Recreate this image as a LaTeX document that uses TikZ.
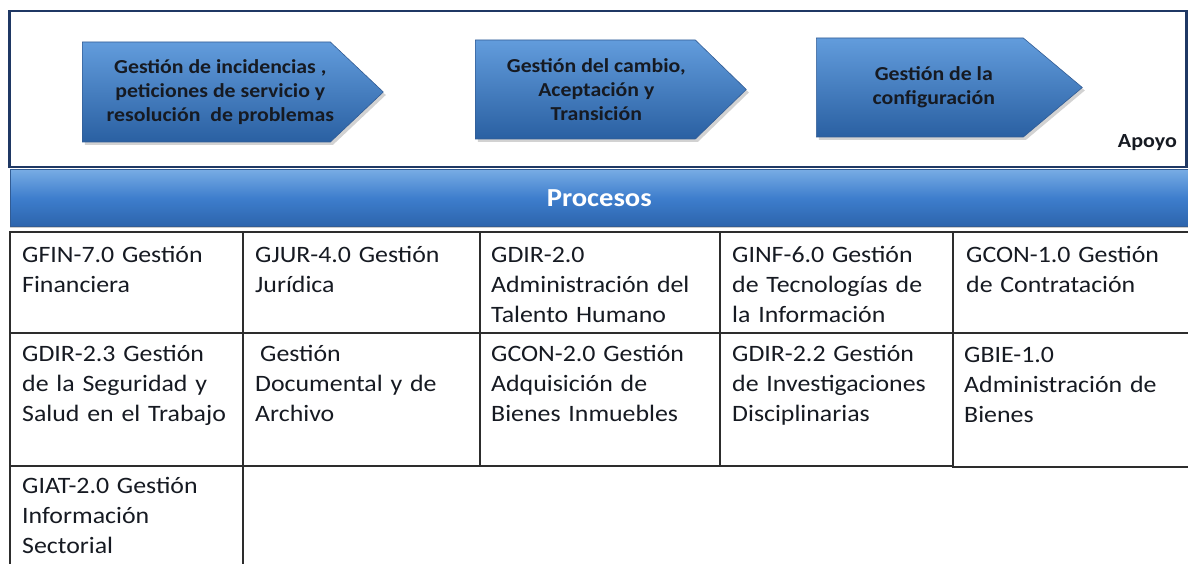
\documentclass[tikz,border=0pt]{standalone}
\usepackage{fontspec}
\setmainfont{Carlito}[FakeStretch=1.1]
\usepackage{xcolor}
\usepackage{tikz}
\usetikzlibrary{shapes.symbols, positioning, shadows}
\definecolor{cNavy}{RGB}{31,56,100}
\definecolor{cArrTop}{RGB}{98,156,220}
\definecolor{cArrBot}{RGB}{42,96,162}
\definecolor{cArrEdge}{RGB}{50,92,148}
\definecolor{cBarTop}{RGB}{120,172,228}
\definecolor{cBarMid}{RGB}{62,126,205}
\definecolor{cBarBot}{RGB}{44,100,172}
\definecolor{cGrid}{RGB}{45,45,45}
\definecolor{cInk}{RGB}{22,26,34}
\tikzset{
	stage/.style   ={signal, signal to=east, minimum height=100pt, inner sep=0pt, top color=cArrTop, bottom color=cArrBot, draw=cArrEdge, line width=0.6pt, drop shadow={shadow xshift=2.5pt, shadow yshift=-3pt, opacity=0.35}},
	stagetxt/.style={align=center, text=cInk, font=\fontsize{19.8}{24}\selectfont\bfseries},
	apoyobox/.style={rectangle, draw=cNavy, line width=2.5pt, fill=white, minimum width=1177pt, minimum height=156pt, anchor=north west, inner sep=0pt},
	procbar/.style ={rectangle, draw=cArrEdge, line width=0.6pt, top color=cBarTop, bottom color=cBarBot, middle color=cBarMid, minimum width=1178pt, minimum height=57pt, anchor=north west, text=white, font=\fontsize{26}{30}\selectfont\bfseries, drop shadow={shadow xshift=0pt, shadow yshift=-2pt, opacity=0.4}},
	cell/.style    ={rectangle, draw=cGrid, line width=1.5pt, inner sep=0pt, outer sep=0pt},
	celltxt/.style ={anchor=base west, align=left, text width=260pt, inner sep=0pt, text=cInk, font=\fontsize{23.5}{30}\selectfont},
}
\begin{document}
\begin{tikzpicture}[x=1pt, y=-1pt, node distance=0pt]
	\useasboundingbox (0,0) rectangle (1188,564);
	\clip (0,0) rectangle (1188,564);
	\node[apoyobox] (apoyo) at (8,10) {};
	\node[stage, signal pointer angle=86.7, minimum width=301pt, anchor=west] (sInc) at (82,92) {};
	\node[stagetxt] (sIncTxt) at ([xshift=14pt]sInc.center) {Gestión de incidencias ,\\peticiones de servicio y\\resolución~ de problemas};
	\node[stage, signal pointer angle=88.3, minimum width=271pt, minimum height=99pt, anchor=west] (sCam) at (475,89.5) {};
	\node[stagetxt] (sCamTxt) at ([xshift=11pt]sCam.center) {Gestión del cambio,\\Aceptación y\\Transición};
	\node[stage, signal pointer angle=80, minimum width=266pt, minimum height=99pt, anchor=west] (sConf) at (816,87.5) {};
	\node[stagetxt] (sConfTxt) at ([xshift=14pt]sConf.center) {Gestión de la\\configuración};
	\node[anchor=base east, inner sep=0pt, text=cInk, font=\fontsize{20}{22}\selectfont\bfseries] (apoyoTxt) at (1177,148) {Apoyo};
	\node[procbar] (proc) at (10,169) {Procesos};
	\node[cell, anchor=north west, minimum width=233pt, minimum height=101pt] (c11) at (10,232) {};
	\node[cell, right=of c11, minimum width=237pt, minimum height=101pt] (c12) {};
	\node[cell, right=of c12, minimum width=240pt, minimum height=101pt] (c13) {};
	\node[cell, right=of c13, minimum width=233pt, minimum height=101pt] (c14) {};
	\node[cell, right=of c14, minimum width=260pt, minimum height=101pt] (c15) {};
	\node[cell, below=of c11, minimum width=233pt, minimum height=133pt] (c21) {};
	\node[cell, below=of c12, minimum width=237pt, minimum height=133pt] (c22) {};
	\node[cell, below=of c13, minimum width=240pt, minimum height=133pt] (c23) {};
	\node[cell, below=of c14, minimum width=233pt, minimum height=133pt] (c24) {};
	\node[cell, below=of c15, minimum width=260pt, minimum height=134pt] (c25) {};
	\node[cell, below=of c21, minimum width=233pt, minimum height=120pt] (c31) {};
	\node[celltxt] (t11) at ([shift={(12,30)}]c11.north west) {GFIN-7.0 Gestión\\Financiera};
	\node[celltxt] (t12) at ([shift={(12,30)}]c12.north west) {GJUR-4.0 Gestión\\Jurídica};
	\node[celltxt] (t13) at ([shift={(11,30)}]c13.north west) {GDIR-2.0\\Administración del\\Talento Humano};
	\node[celltxt] (t14) at ([shift={(12,30)}]c14.north west) {GINF-6.0 Gestión\\de Tecnologías de\\la Información};
	\node[celltxt] (t15) at ([shift={(13,30)}]c15.north west) {GCON-1.0 Gestión\\de Contratación};
	\node[celltxt] (t21) at ([shift={(12,28)}]c21.north west) {GDIR-2.3 Gestión\\de la Seguridad y\\Salud en el Trabajo};
	\node[celltxt] (t22) at ([shift={(12,28)}]c22.north west) {\hspace*{5pt}Gestión\\Documental y de\\Archivo};
	\node[celltxt] (t23) at ([shift={(11,28)}]c23.north west) {GCON-2.0 Gestión\\Adquisición de\\Bienes Inmuebles};
	\node[celltxt] (t24) at ([shift={(12,28)}]c24.north west) {GDIR-2.2 Gestión\\de Investigaciones\\Disciplinarias};
	\node[celltxt] (t25) at ([shift={(11,29)}]c25.north west) {GBIE-1.0\\Administración de\\Bienes};
	\node[celltxt] (t31) at ([shift={(12,27)}]c31.north west) {GIAT-2.0 Gestión\\Información\\Sectorial};
\end{tikzpicture}
\end{document}
